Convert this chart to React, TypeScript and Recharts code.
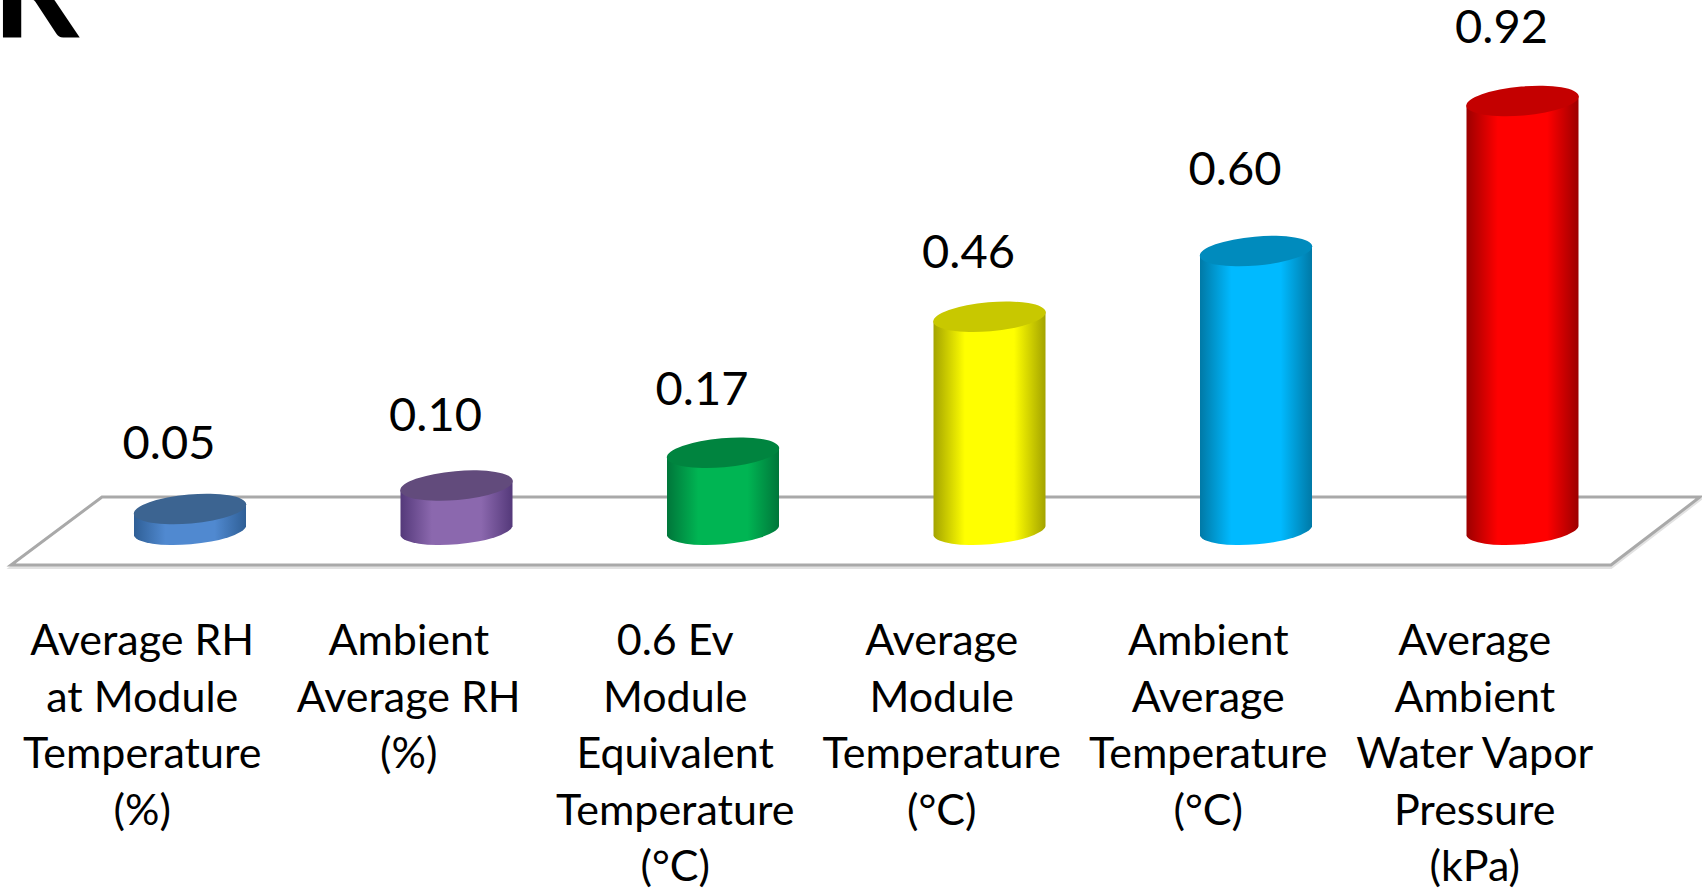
import React from 'react';
import { BarChart, Bar, XAxis, YAxis, LabelList, usePlotArea } from 'recharts';

const categories = [
  'Average RH\nat Module\nTemperature\n(%)',
  'Ambient\nAverage RH\n(%)',
  '0.6 Ev\nModule\nEquivalent\nTemperature\n(°C)',
  'Average\nModule\nTemperature\n(°C)',
  'Ambient\nAverage\nTemperature\n(°C)',
  'Average\nAmbient\nWater Vapor\nPressure\n(kPa)',
];
const values = [0.05, 0.1, 0.17, 0.46, 0.6, 0.92];

// side edge, side centre, top cap
const palette = [
  ['#2f5f96', '#5089d0', '#3c6491'],
  ['#54397a', '#8b68ae', '#624b7c'],
  ['#00763a', '#00b553', '#00843f'],
  ['#a3a300', '#ffff00', '#c8c800'],
  ['#0079a6', '#00baff', '#008bbd'],
  ['#9c0000', '#ff0000', '#c40000'],
];
// how far each value label sits above its bar top
const labelLift = [49, 53, 46, 47, 65, 57];

const chartData = categories.map((name, i) => ({ name, value: values[i] }));

const FONT = 'Lato, sans-serif';
const TILT = -5;
const RY = 14.5;

const Cylinder = (props: any) => {
  const { x, y, width, height, index } = props;
  const rx = width / 2 + 0.4;
  const cx = x + width / 2;
  const base = y + height;
  const top = y + 1.5;
  const dy = 4.8;
  const body =
    `M${x},${top + dy} L${x},${base + dy} ` +
    `A${rx},${RY} ${TILT} 0 0 ${x + width},${base - dy} ` +
    `L${x + width},${top - dy} A${rx},${RY} ${TILT} 0 0 ${x},${top + dy} Z`;
  return (
    <g>
      <path d={body} fill={`url(#cyl-${index})`} />
      <ellipse cx={cx} cy={top} rx={rx} ry={RY} fill={palette[index][2]} transform={`rotate(${TILT} ${cx} ${top})`} />
    </g>
  );
};

const CategoryTick = ({ x, y, payload }: any) => (
  <text textAnchor="middle" fontFamily={FONT} fontSize={43} fill="#000">
    {String(payload.value).split('\n').map((line, i) => (
      <tspan key={i} x={x - 48} y={y + 116 + i * 56.6}>{line}</tspan>
    ))}
  </text>
);

const ValueLabel = ({ x, y, width, value, index }: any) => (
  <text x={x + width / 2 - 21} y={y - labelLift[index]} textAnchor="middle" fontFamily={FONT} fontSize={47} fill="#000">
    {Number(value).toFixed(2)}
  </text>
);

const Floor = () => {
  const plot = usePlotArea();
  if (!plot) return null;
  const back = plot.y + plot.height - 34;
  const front = plot.y + plot.height + 34;
  const left = plot.x;
  const right = plot.x + plot.width;
  const pts = `${left + 45},${back} ${right + 44},${back} ${right - 45},${front} ${left - 46},${front}`;
  return (
    <g>
      <polygon points={pts} fill="none" stroke="#e2e2e2" strokeWidth={3} transform="translate(0 2.5)" />
      <polygon points={pts} fill="#fff" stroke="#a9a9a9" strokeWidth={3} />
    </g>
  );
};

export default function App() {
  return (
    <div style={{ position: 'absolute', left: 0, top: 0, width: 1702, height: 888, overflow: 'hidden', background: '#fff' }}>
      <BarChart
        width={1702}
        height={888}
        data={chartData}
        margin={{ top: 62, right: 46, bottom: 0, left: 57 }}
        barSize={112}
      >
        <defs>
          {palette.map((c, i) => (
            <linearGradient key={i} id={`cyl-${i}`} x1="0" y1="0" x2="1" y2="0">
              <stop offset="0%" stopColor={c[0]} />
              <stop offset="28%" stopColor={c[1]} />
              <stop offset="72%" stopColor={c[1]} />
              <stop offset="100%" stopColor={c[0]} />
            </linearGradient>
          ))}
        </defs>
        <text x={-8} y={38} fontFamily={FONT} fontSize={136} fontWeight={700} fill="#000">R</text>
        <Floor />
        <XAxis dataKey="name" height={357} interval={0} axisLine={false} tickLine={false} tick={<CategoryTick />} />
        <YAxis hide domain={[0, 1]} />
        <Bar dataKey="value" isAnimationActive={false} shape={<Cylinder />}>
          <LabelList dataKey="value" content={<ValueLabel />} />
        </Bar>
      </BarChart>
    </div>
  );
}
